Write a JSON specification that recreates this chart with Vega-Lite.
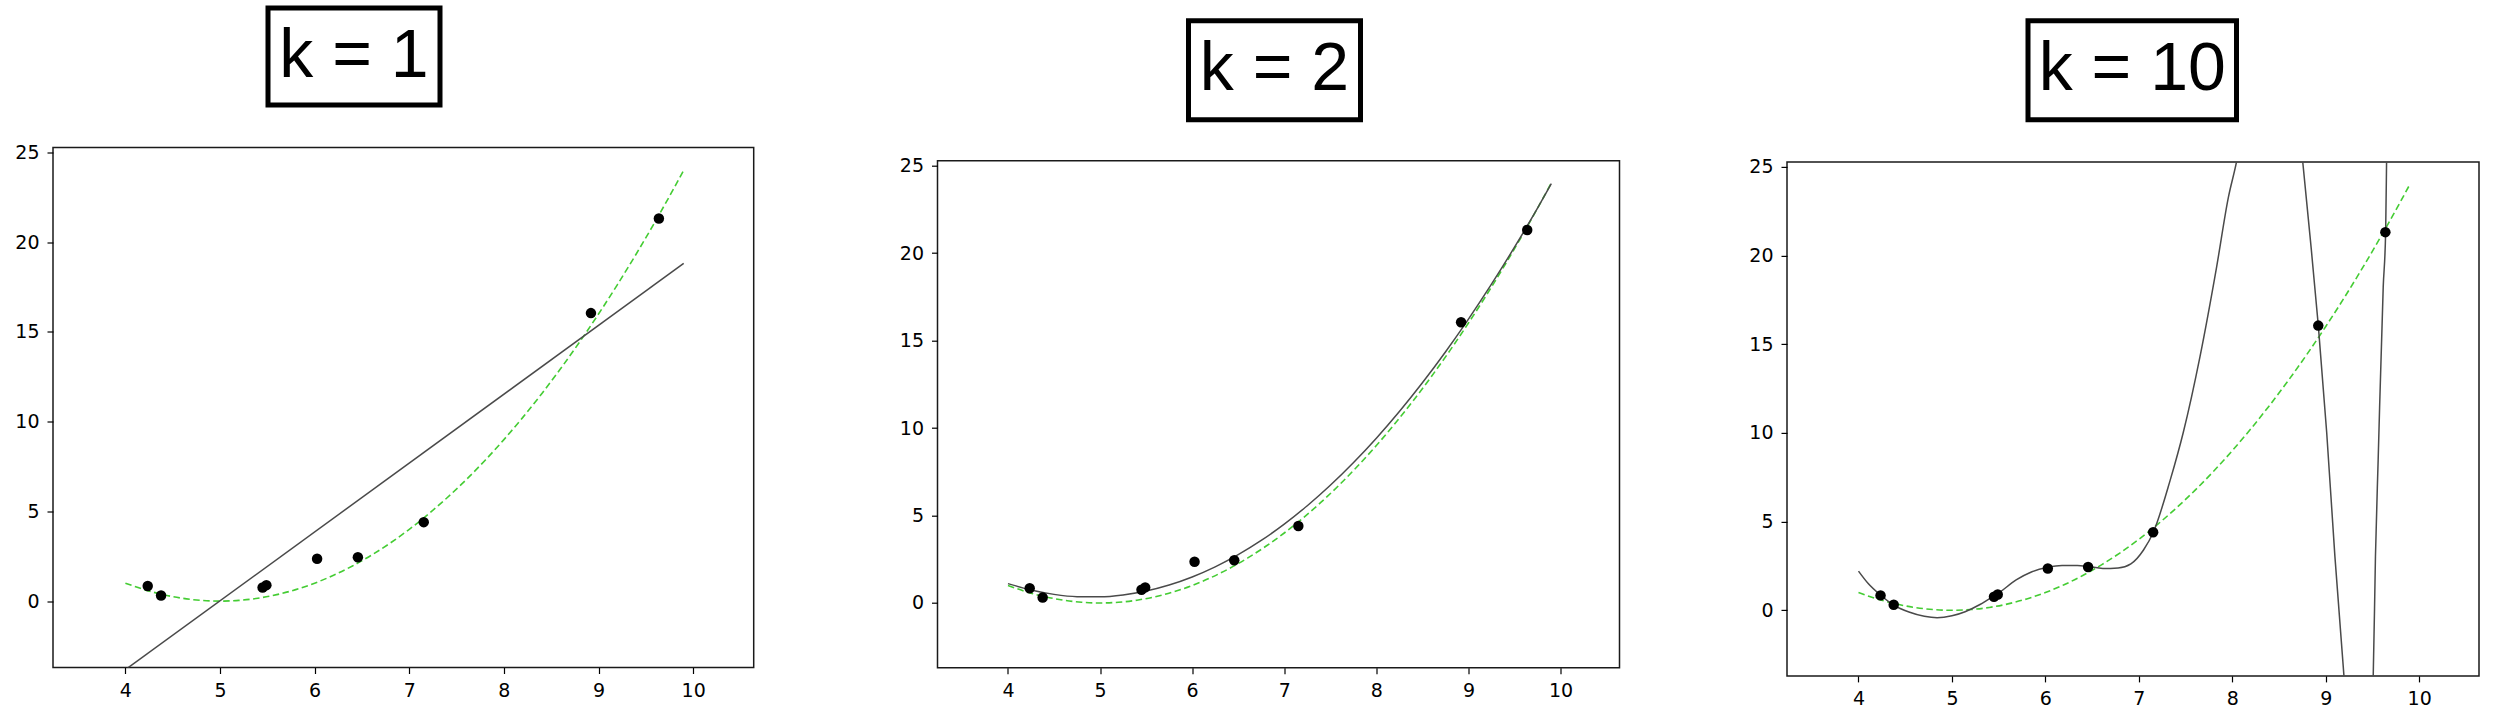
{
  "$schema": "https://vega.github.io/schema/vega-lite/v6.json",
  "padding": {"left": 14, "top": 5, "right": 5, "bottom": 5},
  "background": "white",
  "config": {
    "view": {"stroke": "#1a1a1a", "strokeWidth": 1.5},
    "axis": {"domain": false, "grid": false, "ticks": true, "tickColor": "black", "tickSize": 6, "tickWidth": 1.2, "labelFont": "DejaVu Sans", "labelFontSize": 19, "labelColor": "black", "labelPadding": 8, "title": null}
  },
  "datasets": {
    "pts": [
      {"x": 4.236, "y": 0.84}, {"x": 4.377, "y": 0.31}, {"x": 5.45, "y": 0.76}, {"x": 5.49, "y": 0.89},
      {"x": 6.026, "y": 2.36}, {"x": 6.457, "y": 2.44}, {"x": 7.153, "y": 4.40}, {"x": 8.92, "y": 16.05}, {"x": 9.638, "y": 21.32}
    ],
    "truth": [
      {"x": 4.0, "y": 1.0}, {"x": 4.2, "y": 0.64}, {"x": 4.4, "y": 0.36}, {"x": 4.6, "y": 0.16}, {"x": 4.8, "y": 0.04},
      {"x": 5.0, "y": 0.0}, {"x": 5.2, "y": 0.04}, {"x": 5.4, "y": 0.16}, {"x": 5.6, "y": 0.36}, {"x": 5.8, "y": 0.64},
      {"x": 6.0, "y": 1.0}, {"x": 6.2, "y": 1.44}, {"x": 6.4, "y": 1.96}, {"x": 6.6, "y": 2.56}, {"x": 6.8, "y": 3.24},
      {"x": 7.0, "y": 4.0}, {"x": 7.2, "y": 4.84}, {"x": 7.4, "y": 5.76}, {"x": 7.6, "y": 6.76}, {"x": 7.8, "y": 7.84},
      {"x": 8.0, "y": 9.0}, {"x": 8.2, "y": 10.24}, {"x": 8.4, "y": 11.56}, {"x": 8.6, "y": 12.96}, {"x": 8.8, "y": 14.44},
      {"x": 9.0, "y": 16.0}, {"x": 9.2, "y": 17.64}, {"x": 9.4, "y": 19.36}, {"x": 9.6, "y": 21.16}, {"x": 9.8, "y": 23.04},
      {"x": 9.9, "y": 24.01}
    ],
    "k1": [{"x": 4.0, "y": -3.82}, {"x": 9.9, "y": 18.82}],
    "k2": [
      {"x": 4.0, "y": 1.105}, {"x": 4.25, "y": 0.739}, {"x": 4.5, "y": 0.491}, {"x": 4.75, "y": 0.361}, {"x": 5.0, "y": 0.349},
      {"x": 5.25, "y": 0.456}, {"x": 5.5, "y": 0.68}, {"x": 5.75, "y": 1.023}, {"x": 6.0, "y": 1.483}, {"x": 6.25, "y": 2.062},
      {"x": 6.5, "y": 2.759}, {"x": 6.75, "y": 3.574}, {"x": 7.0, "y": 4.507}, {"x": 7.25, "y": 5.559}, {"x": 7.5, "y": 6.728},
      {"x": 7.75, "y": 8.016}, {"x": 8.0, "y": 9.421}, {"x": 8.25, "y": 10.945}, {"x": 8.5, "y": 12.587}, {"x": 8.75, "y": 14.347},
      {"x": 9.0, "y": 16.225}, {"x": 9.25, "y": 18.222}, {"x": 9.5, "y": 20.336}, {"x": 9.75, "y": 22.569}, {"x": 9.9, "y": 23.965}
    ],
    "k10": [
      {"x": 4.0, "y": 2.21}, {"x": 4.104, "y": 1.51}, {"x": 4.235, "y": 0.86}, {"x": 4.377, "y": 0.29}, {"x": 4.54, "y": -0.1},
      {"x": 4.704, "y": -0.34}, {"x": 4.841, "y": -0.42}, {"x": 5.0, "y": -0.31}, {"x": 5.141, "y": -0.08}, {"x": 5.305, "y": 0.34},
      {"x": 5.441, "y": 0.78}, {"x": 5.49, "y": 0.94}, {"x": 5.687, "y": 1.71}, {"x": 5.85, "y": 2.16}, {"x": 6.025, "y": 2.42},
      {"x": 6.178, "y": 2.52}, {"x": 6.342, "y": 2.52}, {"x": 6.456, "y": 2.47}, {"x": 6.615, "y": 2.36}, {"x": 6.778, "y": 2.39},
      {"x": 6.915, "y": 2.62}, {"x": 7.05, "y": 3.4}, {"x": 7.155, "y": 4.4}, {"x": 7.334, "y": 7.31}, {"x": 7.476, "y": 10.04},
      {"x": 7.655, "y": 14.32}, {"x": 7.833, "y": 19.38}, {"x": 7.958, "y": 23.28}, {"x": 8.047, "y": 25.33}, {"x": 8.12, "y": 27.5},
      {"x": 8.4, "y": 40.0}, {"x": 8.72, "y": 27.0}, {"x": 8.753, "y": 25.33}, {"x": 8.831, "y": 21.14}, {"x": 8.92, "y": 16.08},
      {"x": 9.01, "y": 10.04}, {"x": 9.098, "y": 3.04}, {"x": 9.195, "y": -3.71}, {"x": 9.24, "y": -6.5}, {"x": 9.35, "y": -9.0},
      {"x": 9.47, "y": -6.5}, {"x": 9.508, "y": -3.71}, {"x": 9.532, "y": 3.04}, {"x": 9.561, "y": 8.49}, {"x": 9.615, "y": 18.22},
      {"x": 9.641, "y": 21.33}, {"x": 9.651, "y": 25.33}, {"x": 9.67, "y": 35.0}
    ]
  },
  "hconcat": [
    {
      "spacing": 34.5,
      "vconcat": [
        {
          "spacing": 0,
          "hconcat": [
            {"width": 211.7, "height": 10, "data": {"values": []}, "mark": "point", "encoding": {}, "view": {"stroke": null}},
            {"width": 172, "height": 97, "view": {"stroke": "black", "strokeWidth": 5}, "data": {"values": [{"label": "k = 1"}]},
             "mark": {"type": "text", "font": "Liberation Sans", "fontSize": 68, "align": "center", "baseline": "middle", "color": "black"},
             "encoding": {"text": {"field": "label", "type": "nominal"}}},
            {"width": 327.9, "height": 10, "data": {"values": []}, "mark": "point", "encoding": {}, "view": {"stroke": null}}
          ]
        },
        {
          "width": 700.7, "height": 520,
          "encoding": {
            "x": {"field": "x", "type": "quantitative", "scale": {"domain": [3.235, 10.64], "nice": false, "zero": false}, "axis": {"values": [4, 5, 6, 7, 8, 9, 10]}},
            "y": {"field": "y", "type": "quantitative", "scale": {"domain": [-3.7, 25.28], "nice": false, "zero": false}, "axis": {"values": [0, 5, 10, 15, 20, 25]}}
          },
          "layer": [
            {"data": {"name": "truth"}, "mark": {"type": "line", "color": "#44cc33", "strokeDash": [6.5, 3.5], "strokeWidth": 1.6, "interpolate": "monotone", "clip": true}},
            {"data": {"name": "k1"}, "mark": {"type": "line", "color": "#4a4a4a", "strokeWidth": 1.5, "clip": true}},
            {"data": {"name": "pts"}, "mark": {"type": "point", "filled": true, "color": "black", "opacity": 1, "size": 110}}
          ]
        }
      ]
    },
    {
      "spacing": 20.7,
      "vconcat": [
        {
          "spacing": 0,
          "center": true,
          "hconcat": [
            {"width": 247.3, "height": 126.8, "data": {"values": []}, "mark": "point", "encoding": {}, "view": {"stroke": null}},
            {"width": 172, "height": 99, "view": {"stroke": "black", "strokeWidth": 5}, "data": {"values": [{"label": "k = 2"}]},
             "mark": {"type": "text", "font": "Liberation Sans", "fontSize": 68, "align": "center", "baseline": "middle", "color": "black"},
             "encoding": {"text": {"field": "label", "type": "nominal"}}}
          ]
        },
        {
          "width": 682, "height": 507,
          "encoding": {
            "x": {"field": "x", "type": "quantitative", "scale": {"domain": [3.235, 10.64], "nice": false, "zero": false}, "axis": {"values": [4, 5, 6, 7, 8, 9, 10]}},
            "y": {"field": "y", "type": "quantitative", "scale": {"domain": [-3.7, 25.28], "nice": false, "zero": false}, "axis": {"values": [0, 5, 10, 15, 20, 25]}}
          },
          "layer": [
            {"data": {"name": "truth"}, "mark": {"type": "line", "color": "#44cc33", "strokeDash": [6.5, 3.5], "strokeWidth": 1.6, "interpolate": "monotone", "clip": true}},
            {"data": {"name": "k2"}, "mark": {"type": "line", "color": "#4a4a4a", "strokeWidth": 1.5, "interpolate": "monotone", "clip": true}},
            {"data": {"name": "pts"}, "mark": {"type": "point", "filled": true, "color": "black", "opacity": 1, "size": 110}}
          ]
        }
      ]
    },
    {
      "spacing": 21.9,
      "vconcat": [
        {
          "spacing": 0,
          "center": true,
          "hconcat": [
            {"width": 237.2, "height": 126.8, "data": {"values": []}, "mark": "point", "encoding": {}, "view": {"stroke": null}},
            {"width": 208.5, "height": 99, "view": {"stroke": "black", "strokeWidth": 5}, "data": {"values": [{"label": "k = 10"}]},
             "mark": {"type": "text", "font": "Liberation Sans", "fontSize": 68, "align": "center", "baseline": "middle", "color": "black"},
             "encoding": {"text": {"field": "label", "type": "nominal"}}}
          ]
        },
        {
          "width": 692, "height": 514,
          "encoding": {
            "x": {"field": "x", "type": "quantitative", "scale": {"domain": [3.235, 10.64], "nice": false, "zero": false}, "axis": {"values": [4, 5, 6, 7, 8, 9, 10]}},
            "y": {"field": "y", "type": "quantitative", "scale": {"domain": [-3.7, 25.28], "nice": false, "zero": false}, "axis": {"values": [0, 5, 10, 15, 20, 25]}}
          },
          "layer": [
            {"data": {"name": "truth"}, "mark": {"type": "line", "color": "#44cc33", "strokeDash": [6.5, 3.5], "strokeWidth": 1.6, "interpolate": "monotone", "clip": true}},
            {"data": {"name": "k10"}, "mark": {"type": "line", "color": "#4a4a4a", "strokeWidth": 1.5, "interpolate": "monotone", "clip": true}},
            {"data": {"name": "pts"}, "mark": {"type": "point", "filled": true, "color": "black", "opacity": 1, "size": 110}}
          ]
        }
      ]
    }
  ],
  "spacing": 127.5
}
